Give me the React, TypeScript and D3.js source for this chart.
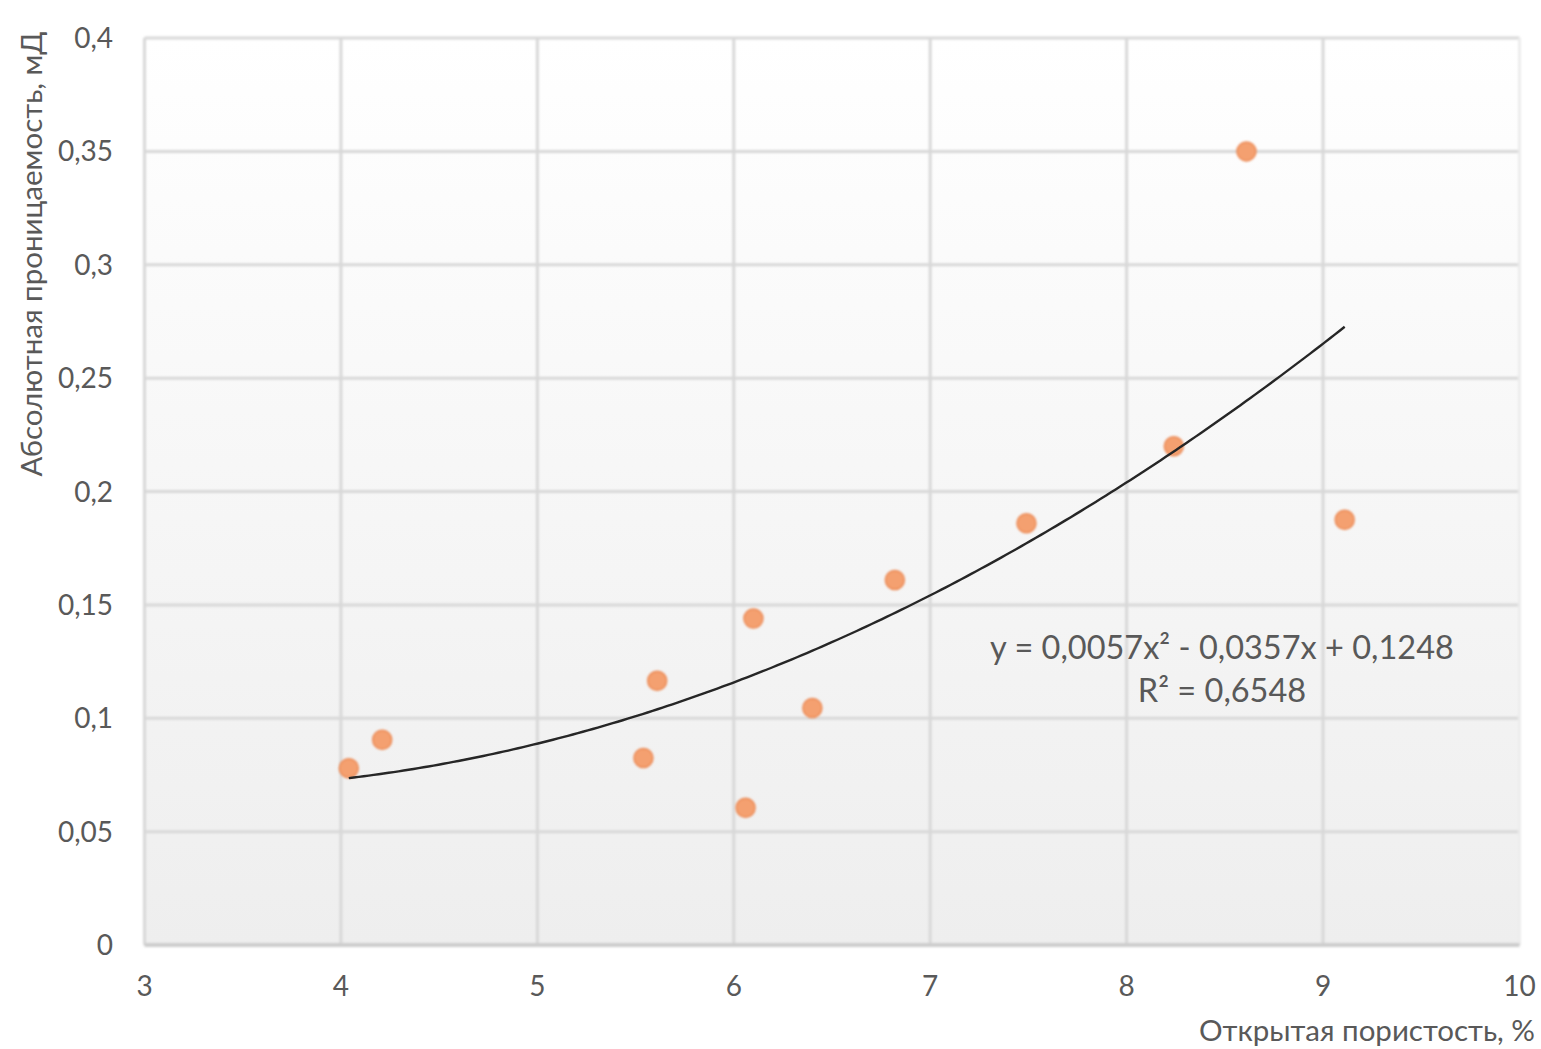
import React from "react";
import * as d3 from "d3";

const porosity = [4.04, 4.21, 5.54, 5.61, 6.06, 6.1, 6.4, 6.82, 7.49, 8.24, 8.61, 9.11];
const permeability = [0.078, 0.0905, 0.0825, 0.1165, 0.0605, 0.144, 0.1045, 0.161, 0.186, 0.22, 0.35, 0.1875];
const trendCoef = [0.0057, -0.0357, 0.1248];
const xTicks = [3, 4, 5, 6, 7, 8, 9, 10];
const yTicks = [0, 0.05, 0.1, 0.15, 0.2, 0.25, 0.3, 0.35, 0.4];
const xTitle = "Открытая пористость, %";
const yTitle = "Абсолютная проницаемость, мД";
const eqText = "y = 0,0057x² - 0,0357x + 0,1248";
const r2Text = "R² = 0,6548";

const W = 1541, H = 1049;
const FONT = "Lato, 'Open Sans', sans-serif";
const TXT = "#595959";

export default function App() {
  const x = d3.scaleLinear().domain([3, 10]).range([144.5, 1519.5]);
  const y = d3.scaleLinear().domain([0, 0.4]).range([945, 38]);
  const fmt = (v: number) => String(v).replace(".", ",");
  const xmin = d3.min(porosity)!, xmax = d3.max(porosity)!;
  const trendPts = d3.range(0, 201).map(i => {
    const xv = xmin + (xmax - xmin) * i / 200;
    return [xv, trendCoef[0] * xv * xv + trendCoef[1] * xv + trendCoef[2]] as [number, number];
  });
  const line = d3.line<[number, number]>().x(d => x(d[0])).y(d => y(d[1]));
  return (
    <svg width={W} height={H} style={{ position: "absolute", left: 0, top: 0, background: "#fff" }}>
      <defs>
        <linearGradient id="bg" x1="0" y1="0" x2="0" y2="1">
          <stop offset="0" stopColor="#ffffff" />
          <stop offset="1" stopColor="#eeeeee" />
        </linearGradient>
        <filter id="blur"><feGaussianBlur stdDeviation="0.8" /></filter>
        <filter id="blur2"><feGaussianBlur stdDeviation="0.4" /></filter>
      </defs>
      <rect x={x(3)} y={y(0.4)} width={x(10) - x(3)} height={y(0) - y(0.4)} fill="url(#bg)" />
      <g filter="url(#blur)">
        {yTicks.filter(t => t > 0).map(t => (
          <line key={"gy" + t} x1={x(3)} x2={x(10)} y1={y(t)} y2={y(t)} stroke="#d8d8d8" strokeWidth={3} />
        ))}
        {xTicks.map(t => (
          <line key={"gx" + t} x1={x(t)} x2={x(t)} y1={y(0.4)} y2={y(0)} stroke={t === 10 ? "#ececec" : "#d8d8d8"} strokeWidth={3} />
        ))}
        <line x1={x(3)} x2={x(10)} y1={y(0)} y2={y(0)} stroke="#cdcdcd" strokeWidth={4} />
      </g>
      <g fontFamily={FONT} fill={TXT} fontSize={28}>
        {yTicks.map(t => (
          <text key={"ty" + t} x={113} y={y(t)} dy="0.36em" textAnchor="end">{fmt(t)}</text>
        ))}
        {xTicks.map(t => (
          <text key={"tx" + t} x={x(t)} y={996} textAnchor="middle">{t}</text>
        ))}
      </g>
      <g filter="url(#blur)">
        {porosity.map((p, i) => (
          <circle key={i} cx={x(p)} cy={y(permeability[i])} r={9.5} fill="#f4a070" stroke="#ec8a55" strokeWidth={1.5} />
        ))}
      </g>
      <path d={line(trendPts)!} fill="none" stroke="#262626" strokeWidth={2.4} filter="url(#blur2)" />
      <g fontFamily={FONT} fill={TXT} fontSize={32.5}>
        <text x={1222} y={659} textAnchor="middle">{eqText}</text>
        <text x={1222} y={702} textAnchor="middle">{r2Text}</text>
      </g>
      <text x={1535} y={1041} textAnchor="end" fontFamily={FONT} fontSize={29.5} fill={TXT}>{xTitle}</text>
      <text transform="translate(42,254) rotate(-90)" textAnchor="middle" fontFamily={FONT} fontSize={29.5} fill={TXT}>{yTitle}</text>
    </svg>
  );
}
